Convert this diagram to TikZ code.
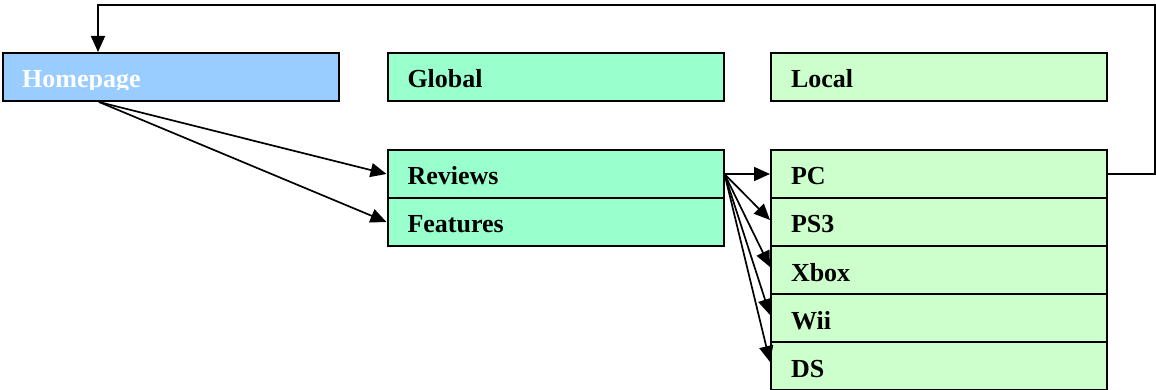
\documentclass[tikz,border=0pt]{standalone}
\usepackage{fontspec}
\setmainfont{Liberation Serif}
\usetikzlibrary{arrows.meta,calc}
\definecolor{hpblue}{HTML}{99CCFF}
\definecolor{aqua}{HTML}{99FFCC}
\definecolor{pale}{HTML}{CCFFCC}
\begin{document}
\begin{tikzpicture}[x=1pt,y=-1pt,
  box/.style={draw=black, line width=2pt, minimum width=336pt, minimum height=48pt,
    text width=296pt, inner xsep=20pt, inner ysep=0pt, align=left,
    text height=22pt, text depth=0pt,
    font=\bfseries\fontsize{26}{30}\selectfont},
  lbl/.style={font=\bfseries\fontsize{26}{30}\selectfont, inner sep=0pt},
  conn/.style={line width=1.7pt, -{Triangle[length=16pt,width=14pt]}}]
\useasboundingbox (0,0) rectangle (1156,390);
% top row
\node[box, fill=hpblue] (Homepage) at (171,77) {};
\begin{scope}
  \clip ($(Homepage.north west)+(1,1)$) rectangle ($(Homepage.east)+(-1,13)$);
  \node[lbl, text=white, anchor=base west] (hptext) at ($(Homepage.west)+(20,11)$) {Homepage};
\end{scope}
\node[box, fill=aqua] (Global) at (555.5,77) {Global};
\node[box, fill=pale] (Local) at (939,77) {Local};
% middle column
\node[box, fill=aqua] (Reviews) at (555.5,174) {Reviews};
\node[box, fill=aqua] (Features) at (555.5,222) {Features};
% right column
\node[box, fill=pale] (PC) at (939,174) {PC};
\node[box, fill=pale] (PS3) at (939,222) {PS3};
\node[box, fill=pale] (Xbox) at (939,270) {Xbox};
\node[box, fill=pale] (Wii) at (939,318) {Wii};
\node[box, fill=pale] (DS) at (939,366) {DS};
% connectors
\coordinate (hpout) at ($(Homepage.south west)+(97,0)$);
\coordinate (hpin) at ($(Homepage.north west)+(96,0)$);
\coordinate (corner) at (1155,5);
\draw[conn] (hpout) -- (Reviews.west);
\draw[conn] (hpout) -- (Features.west);
\draw[conn] (Reviews.east) -- (PC.west);
\draw[conn] (Reviews.east) -- ($(PS3.west)+(0,-2)$);
\draw[conn] (Reviews.east) -- ($(Xbox.west)+(0,-3)$);
\draw[conn] (Reviews.east) -- ($(Wii.west)+(0,-3)$);
\draw[conn] (Reviews.east) -- ($(DS.west)+(0,-4)$);
\draw[conn] (PC.east) -| (corner) -| (hpin);
\end{tikzpicture}
\end{document}
